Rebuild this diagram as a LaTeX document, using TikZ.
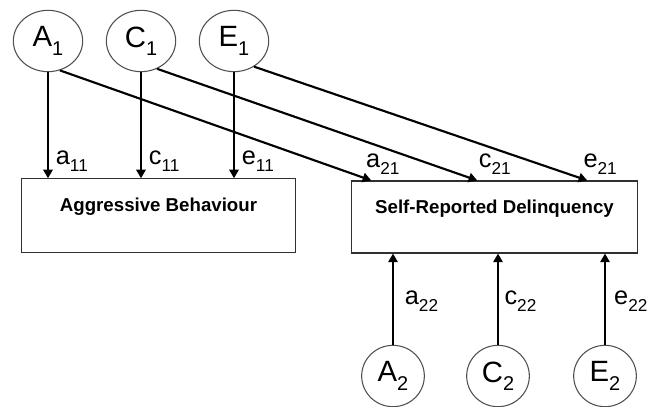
\documentclass[tikz,border=0pt]{standalone}
\usepackage{fontspec}
\setmainfont{Liberation Sans}
\usepackage{tikz}
\usetikzlibrary{arrows.meta,positioning,shapes.geometric,calc}
\definecolor{ringgray}{HTML}{505050}
\definecolor{boxgray}{HTML}{303030}
\newcommand{\subidx}[1]{\raisebox{-0.28em}{\scalebox{0.68}{#1}}}
\tikzset{
  latent/.style={ellipse,draw=ringgray,line width=0.8pt,minimum height=46pt,
                 inner sep=0pt,font=\fontsize{22}{24}\selectfont},
  obsbox/.style={rectangle,draw=boxgray,line width=0.8pt,
                 font=\bfseries\fontsize{14}{15}\selectfont,
                 text height=9.7pt,text depth=15pt},
  pathar/.style={-{Triangle[length=6.5pt,width=7pt]},line width=1.8pt},
  coef/.style={font=\fontsize{19}{21}\selectfont,inner sep=1pt},
}
\begin{document}
\begin{tikzpicture}[x=0.75pt,y=-0.75pt]
  \useasboundingbox (0,0) rectangle (655,406);
  % latent factors
  \node[latent,minimum width=52pt] (A1) at (48,41)  {A\subidx{1}};
  \node[latent,minimum width=52pt] (C1) at (141,41) {C\subidx{1}};
  \node[latent,minimum width=52pt] (E1) at (234,41) {E\subidx{1}};
  \node[latent,minimum width=47pt] (A2) at (393,376) {A\subidx{2}};
  \node[latent,minimum width=47pt] (C2) at (498,376) {C\subidx{2}};
  \node[latent,minimum width=47pt] (E2) at (605,376) {E\subidx{2}};
  % observed phenotypes
  \node[obsbox,minimum width=206pt,minimum height=55pt] (agg) at (158.5,215.5)
    {Aggressive Behaviour};
  \node[obsbox,minimum width=214pt,minimum height=54pt] (srd) at (494.5,217)
    {Self-Reported Delinquency};
  \coordinate (a21in) at ($(srd.north west)+(20,0)$);
  \coordinate (c21in) at ($(srd.north west)+(126,0)$);
  \coordinate (e21in) at ($(srd.north west)+(236,0)$);

  \draw[pathar] (A1) -- (A1 |- agg.north)
    node[coef,pos=0.84,anchor=west,xshift=4pt] (la11) {a\subidx{11}};
  \draw[pathar] (C1) -- (C1 |- agg.north)
    node[coef,pos=0.84,anchor=west,xshift=4pt] (lc11) {c\subidx{11}};
  \draw[pathar] (E1) -- (E1 |- agg.north)
    node[coef,pos=0.84,anchor=west,xshift=4pt] (le11) {e\subidx{11}};

  \draw[pathar,line width=1.6pt] (A1.-68) -- (a21in);
  \draw[pathar,line width=1.6pt] (C1.-60) -- (c21in);
  \draw[pathar,line width=1.6pt] (E1.-52) -- (e21in);
  \node[coef,anchor=south west,xshift=-5pt,yshift=3pt] (la21) at (a21in) {a\subidx{21}};
  \node[coef,anchor=south west,xshift=0pt,yshift=3pt] (lc21) at (c21in) {c\subidx{21}};
  \node[coef,anchor=south west,xshift=-4pt,yshift=3pt] (le21) at (e21in) {e\subidx{21}};

  \draw[pathar] (A2) -- (A2 |- srd.south)
    node[coef,pos=0.48,anchor=west,xshift=7pt] (la22) {a\subidx{22}};
  \draw[pathar] (C2) -- (C2 |- srd.south)
    node[coef,pos=0.48,anchor=west,xshift=3pt] (lc22) {c\subidx{22}};
  \draw[pathar] (E2) -- (E2 |- srd.south)
    node[coef,pos=0.48,anchor=west,xshift=5pt] (le22) {e\subidx{22}};
\end{tikzpicture}
\end{document}
